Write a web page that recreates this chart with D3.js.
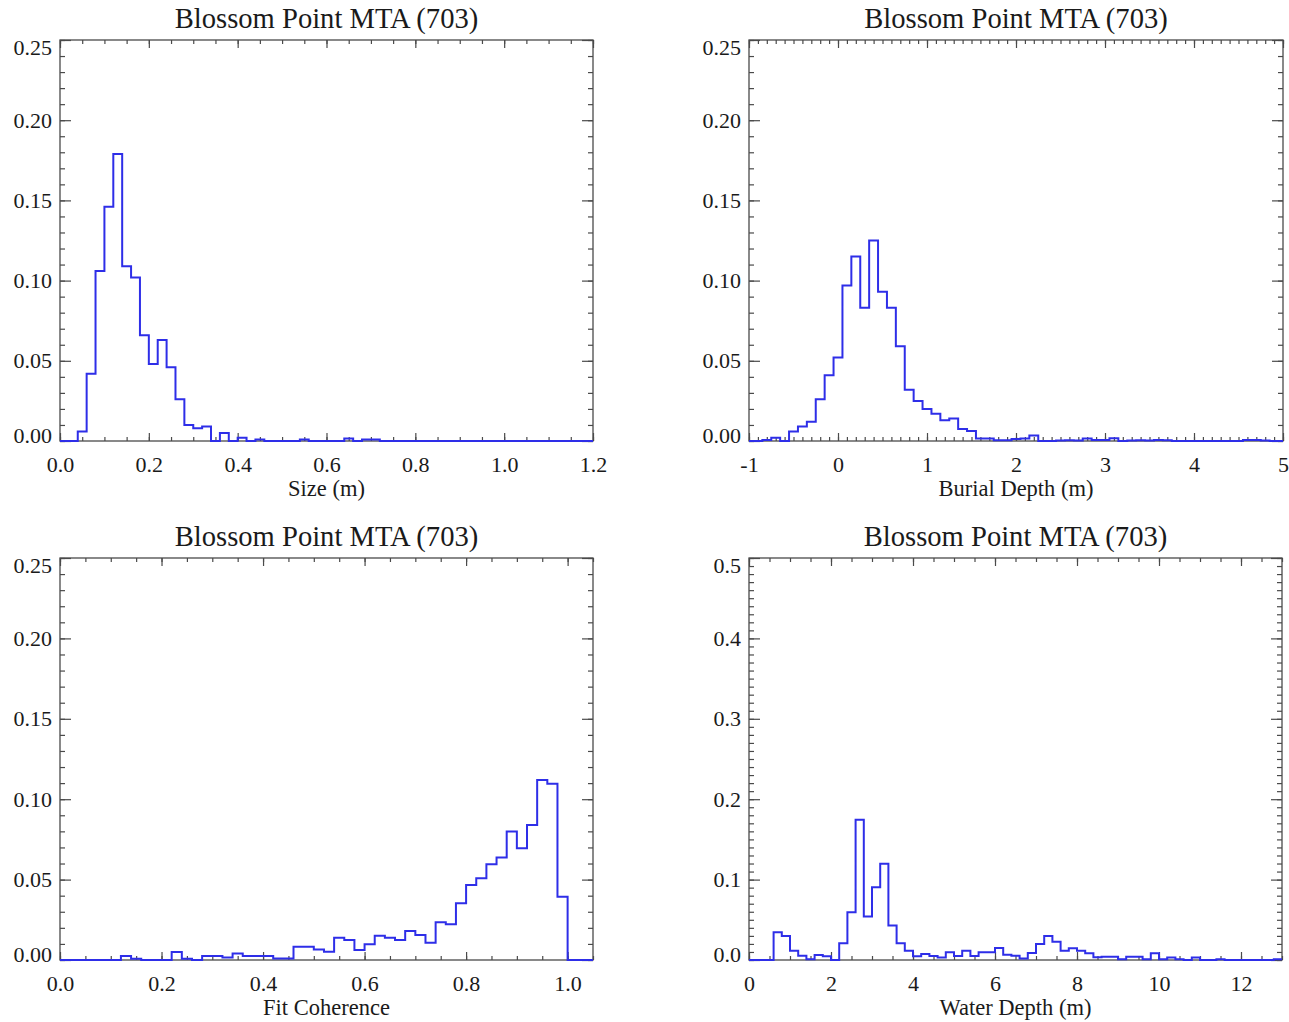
<!DOCTYPE html>
<html>
<head>
<meta charset="utf-8">
<script src="https://cdn.jsdelivr.net/npm/d3@7"></script>
<style>
body { margin: 0; background: #fff; }
text { font-family: "Liberation Serif", "Times New Roman", serif; fill: #1a1a1a; }
.axis text { font-size: 22px; }
.axis line { stroke: #4a4a4a; stroke-width: 1.2; }
.title { font-size: 28.6px; }
.xlabel { font-size: 22.5px; }
</style>
</head>
<body>
<div class="chart"></div>
<script>
// data
var title = "Blossom Point MTA (703)"

// Size (m): bins of 0.02 from 0.0
var sizeStart = 0, sizeStep = 0.02
var sizeFreq = [0, 0, 0.006, 0.042, 0.106, 0.146, 0.179, 0.109, 0.102, 0.066,
  0.048, 0.063, 0.046, 0.026, 0.010, 0.008, 0.009, 0, 0.005, 0,
  0.002, 0, 0.001, 0, 0, 0, 0, 0.001, 0, 0,
  0, 0, 0.0015, 0, 0.001, 0.001, 0, 0, 0, 0,
  0, 0, 0, 0, 0, 0, 0, 0, 0, 0,
  0, 0, 0, 0, 0, 0, 0, 0, 0, 0]
var sizeTicks = [0, 0.2, 0.4, 0.6, 0.8, 1.0, 1.2]

// Burial Depth (m): bins of 0.1 centred on -1.0 ... 5.0
var depthStart = -1.05, depthStep = 0.1
var depthFreq = [0, 0, 0.0006, 0.002, 0, 0.006, 0.009, 0.012, 0.026, 0.041,
  0.052, 0.097, 0.115, 0.083, 0.125, 0.093, 0.083, 0.059, 0.032, 0.025,
  0.020, 0.017, 0.013, 0.014, 0.0075, 0.0062, 0.0015, 0.0015, 0.0005, 0.0005,
  0.0012, 0.0015, 0.0035, 0, 0, 0.0003, 0.0005, 0.0003, 0.0015, 0.0007,
  0.0007, 0.0017, 0, 0.0003, 0.0005, 0.0003, 0.0007, 0.0005, 0, 0,
  0, 0, 0, 0, 0, 0, 0.0007, 0.0007, 0.0003, 0,
  0]
var depthTicks = [-1, 0, 1, 2, 3, 4, 5]

// Fit Coherence: bins of 0.02 from 0.0
var fitStart = 0, fitStep = 0.02
var fitFreq = [0, 0, 0, 0, 0, 0, 0.0025, 0.0008, 0, 0,
  0, 0.005, 0.0008, 0, 0.0025, 0.0025, 0.0015, 0.004, 0.0025, 0.0025,
  0.0025, 0.001, 0.001, 0.0083, 0.0083, 0.0066, 0.0052, 0.0139, 0.0125, 0.0062,
  0.0098, 0.0151, 0.0139, 0.0125, 0.018, 0.0156, 0.0108, 0.0235, 0.0222, 0.0353,
  0.0467, 0.0509, 0.0596, 0.0637, 0.0799, 0.0695, 0.084, 0.112, 0.1096, 0.0394,
  0, 0, 0]
var fitTicks = [0, 0.2, 0.4, 0.6, 0.8, 1.0]

// Water Depth (m): bins of 0.2 from 0
var waterStart = 0, waterStep = 0.2
var waterFreq = [0, 0, 0, 0.0345, 0.030, 0.0116, 0.0054, 0.001, 0.0062, 0.0046,
  0, 0.0208, 0.0594, 0.1743, 0.054, 0.0905, 0.1196, 0.0428, 0.0208, 0.0116,
  0.0046, 0.0075, 0.005, 0.003, 0.0095, 0.005, 0.0116, 0.005, 0.0095, 0.0095,
  0.015, 0.0065, 0.0052, 0.002, 0.0086, 0.020, 0.0299, 0.0228, 0.0116, 0.0145,
  0.0116, 0.0083, 0.0033, 0.004, 0.004, 0.001, 0.004, 0.004, 0.001, 0.0083,
  0.001, 0.003, 0.001, 0, 0.003, 0, 0, 0.001, 0, 0,
  0, 0, 0, 0, 0.001]
var waterTicks = [0, 2, 4, 6, 8, 10, 12]

var freqTicks = [0, 0.05, 0.10, 0.15, 0.20, 0.25]
var waterFreqTicks = [0, 0.1, 0.2, 0.3, 0.4, 0.5]

let svg = d3.select('div.chart').append('svg').attr('width', 1289).attr('height', 1022)

function panel(o) {
  var w = o.right - o.left, h = o.bottom - o.top
  var g = svg.append('g').attr('transform', `translate(${o.left},${o.top})`)

  //Scale
  let x = d3.scaleLinear().domain(o.xDomain).range([0, w])
  let y = d3.scaleLinear().domain(o.yDomain).range([h, 0])

  var step = (a, b, s) => d3.range(Math.round((b - a) / s) + 1).map(i => +(a + i * s).toFixed(4))
  var xMinor = step(o.xDomain[0], o.xDomain[1], o.xMinor)
  var yMinor = step(o.yDomain[0], o.yDomain[1], o.yMinor)

  //Axis_x
  g.append('g').attr('class', 'axis').attr('transform', `translate(0,${h})`)
    .call(d3.axisBottom(x).tickValues(xMinor).tickSizeInner(-4).tickSizeOuter(0).tickFormat(''))
  g.append('g').attr('class', 'axis').attr('transform', `translate(0,${h})`)
    .call(d3.axisBottom(x).tickValues(o.xTicks).tickSizeInner(-8).tickSizeOuter(0).tickPadding(15).tickFormat(o.xFmt))
  g.append('g').attr('class', 'axis')
    .call(d3.axisTop(x).tickValues(xMinor).tickSizeInner(-4).tickSizeOuter(0).tickFormat(''))
  g.append('g').attr('class', 'axis')
    .call(d3.axisTop(x).tickValues(o.xTicks).tickSizeInner(-8).tickSizeOuter(0).tickFormat(''))

  //Axis_y
  g.append('g').attr('class', 'axis')
    .call(d3.axisLeft(y).tickValues(yMinor).tickSizeInner(-5).tickSizeOuter(0).tickFormat(''))
  var yl = g.append('g').attr('class', 'axis')
    .call(d3.axisLeft(y).tickValues(o.yTicks).tickSizeInner(-11).tickSizeOuter(0).tickPadding(8).tickFormat(o.yFmt))
  g.append('g').attr('class', 'axis').attr('transform', `translate(${w},0)`)
    .call(d3.axisRight(y).tickValues(yMinor).tickSizeInner(-5).tickSizeOuter(0).tickFormat(''))
  g.append('g').attr('class', 'axis').attr('transform', `translate(${w},0)`)
    .call(d3.axisRight(y).tickValues(o.yTicks).tickSizeInner(-11).tickSizeOuter(0).tickFormat(''))

  // end labels sit inside the box like the original
  yl.selectAll('text').attr('dy', d => d === o.yDomain[1] ? '0.66em' : d === o.yDomain[0] ? '0.05em' : '0.32em')
  g.selectAll('.domain').remove()

  g.append('rect').attr('width', w).attr('height', h)
    .attr('fill', 'none').attr('stroke', '#4a4a4a').attr('stroke-width', 1.3)

  //histogram
  var clipId = 'clip' + o.id
  g.append('clipPath').attr('id', clipId).append('rect')
    .attr('x', 0).attr('y', -3).attr('width', w).attr('height', h + 6)

  var pts = o.values.map((v, i) => [o.start + i * o.binStep, v])
  pts.push([o.start + o.values.length * o.binStep, o.values[o.values.length - 1]])

  g.append('path').datum(pts)
    .attr('clip-path', `url(#${clipId})`)
    .attr('fill', 'none')
    .attr('stroke', '#2e2ee8')
    .attr('stroke-width', 2)
    .attr('d', d3.line().x(d => x(d[0])).y(d => y(d[1])).curve(d3.curveStepAfter))

  //tag
  g.append('text').attr('class', 'title')
    .attr('x', w / 2).attr('y', -12).attr('text-anchor', 'middle')
    .text(title)
  g.append('text').attr('class', 'xlabel')
    .attr('x', w / 2).attr('y', h + 55).attr('text-anchor', 'middle')
    .text(o.xLabel)
}

var f1 = d3.format('.1f'), f2 = d3.format('.2f')

panel({ id: 1, left: 60, right: 593, top: 40, bottom: 441,
  xDomain: [0, 1.2], yDomain: [0, 0.25], xTicks: sizeTicks, yTicks: freqTicks,
  xMinor: 0.05, yMinor: 0.01, xFmt: f1, yFmt: f2,
  start: sizeStart, binStep: sizeStep, values: sizeFreq, xLabel: 'Size (m)' })

panel({ id: 2, left: 749, right: 1283, top: 40, bottom: 441,
  xDomain: [-1, 5], yDomain: [0, 0.25], xTicks: depthTicks, yTicks: freqTicks,
  xMinor: 0.1, yMinor: 0.01, xFmt: d => String(d), yFmt: f2,
  start: depthStart, binStep: depthStep, values: depthFreq, xLabel: 'Burial Depth (m)' })

panel({ id: 3, left: 60, right: 593, top: 558, bottom: 960,
  xDomain: [0, 1.05], yDomain: [0, 0.25], xTicks: fitTicks, yTicks: freqTicks,
  xMinor: 0.05, yMinor: 0.01, xFmt: f1, yFmt: f2,
  start: fitStart, binStep: fitStep, values: fitFreq, xLabel: 'Fit Coherence' })

panel({ id: 4, left: 749, right: 1282, top: 558, bottom: 960,
  xDomain: [0, 13], yDomain: [0, 0.5], xTicks: waterTicks, yTicks: waterFreqTicks,
  xMinor: 0.5, yMinor: 0.01, xFmt: d => String(d), yFmt: f1,
  start: waterStart, binStep: waterStep, values: waterFreq, xLabel: 'Water Depth (m)' })
</script>
</body>
</html>
